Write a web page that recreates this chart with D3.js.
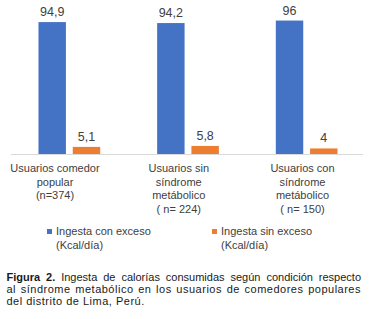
<!DOCTYPE html>
<html>
<head>
<meta charset="utf-8">
<script src="https://cdn.jsdelivr.net/npm/d3@7"></script>
<style>
  body { margin: 0; background: #fff; }
  svg { display: block; font-family: "Liberation Sans", Arial, sans-serif; }
</style>
</head>
<body>
<div id="chart"></div>
<script>
// categories, series and their values
const categories = ["comedor", "sin", "con"];
const categoryLines = [
  ["Usuarios comedor", "popular", "(n=374)"],
  ["Usuarios sin", "síndrome", "metábolico", "( n= 224)"],
  ["Usuarios con", "síndrome", "metábolico", "( n= 150)"]
];
const series = ["Ingesta con exceso", "Ingesta sin exceso"];
const seriesUnit = "(Kcal/día)";
const conExceso = [94.9, 94.2, 96];
const sinExceso = [5.1, 5.8, 4];
const valueLabels = [["94,9", "94,2", "96"], ["5,1", "5,8", "4"]];
const colors = ["#4472C4", "#ED7D31"];

const captionBold = "Figura 2.";
const captionLines = [
  " Ingesta de calorías consumidas según condición respecto",
  "al síndrome metabólico en los usuarios de comedores populares",
  "del distrito de Lima, Perú."
];

const width = 369, height = 319;
const baseY = 154;

let svg = d3.select("#chart").append("svg")
  .attr("width", width).attr("height", height);

// scales
let x0 = d3.scaleBand()
  .domain(categories)
  .range([10, 366])
  .paddingInner(0.48)
  .paddingOuter(0.24);

let x1 = d3.scaleBand()
  .domain(series)
  .range([0, x0.bandwidth()])
  .paddingInner(0.2);

let y = d3.scaleLinear()
  .domain([0, 100])
  .range([baseY, 15]);

// label positions under the bars (they sit a bit left of the groups)
let labelX = d3.scalePoint()
  .domain(categories)
  .range([55, 302.5]);

const rows = [conExceso, sinExceso];

// bars
series.forEach((s, si) => {
  svg.append("g")
    .selectAll("rect")
    .data(categories)
    .join("rect")
    .attr("x", c => x0(c) + x1(s))
    .attr("y", (c, i) => y(rows[si][i]))
    .attr("width", x1.bandwidth())
    .attr("height", (c, i) => y(0) - y(rows[si][i]))
    .attr("fill", colors[si]);

  svg.append("g")
    .selectAll("text")
    .data(categories)
    .join("text")
    .attr("x", c => x0(c) + x1(s) + x1.bandwidth() / 2)
    .attr("y", (c, i) => y(rows[si][i]) - 6)
    .attr("text-anchor", "middle")
    .attr("font-size", 12.5)
    .attr("fill", "#404040")
    .text((c, i) => valueLabels[si][i]);
});

// baseline
svg.append("line")
  .attr("x1", 11).attr("x2", 363)
  .attr("y1", y(0) + 0.5).attr("y2", y(0) + 0.5)
  .attr("stroke", "#d9d9d9")
  .attr("stroke-width", 1);

// category labels
categories.forEach((c, i) => {
  let t = svg.append("text")
    .attr("text-anchor", "middle")
    .attr("font-size", 11)
    .attr("fill", "#404040");
  categoryLines[i].forEach((line, li) => {
    t.append("tspan")
      .attr("x", labelX(c))
      .attr("y", 172 + li * 13.5)
      .text(line);
  });
});

// legend
const legendX = [47, 212];
series.forEach((s, si) => {
  let g = svg.append("g").attr("transform", `translate(${legendX[si]},0)`);
  g.append("rect")
    .attr("x", 0).attr("y", 229)
    .attr("width", 5).attr("height", 5)
    .attr("fill", colors[si]);
  let t = g.append("text")
    .attr("font-size", 11)
    .attr("fill", "#404040");
  t.append("tspan").attr("x", 9).attr("y", 235).text(s);
  t.append("tspan").attr("x", 9).attr("y", 249).text(seriesUnit);
});

// caption: first line squeezed, second spread by word spacing
const capLeft = 6.5, capRight = 361;
const target = capRight - capLeft;
const capTop = 280.5, capStep = 12.4;
captionLines.forEach((line, li) => {
  let g = svg.append("g")
    .attr("transform", `translate(${capLeft},${capTop + li * capStep})`);
  let t = g.append("text")
    .attr("x", 0).attr("y", 0)
    .attr("font-size", 11)
    .attr("letter-spacing", 0.5)
    .attr("fill", "#1a1a1a");
  if (li === 0) {
    t.append("tspan").attr("font-weight", "bold").text(captionBold);
  }
  t.append("tspan").text(line);
  if (li < 2) {
    let w = t.node().getComputedTextLength();
    let spaces = (line.match(/ /g) || []).length + (li === 0 ? 1 : 0);
    if (w > target) {
      t.attr("letter-spacing", 0);
      w = t.node().getComputedTextLength();
    }
    if (w > target) {
      g.attr("transform", `translate(${capLeft},${capTop + li * capStep}) scale(${target / w},1)`);
    } else {
      t.attr("word-spacing", (target - w) / spaces);
    }
  }
});
</script>
</body>
</html>
